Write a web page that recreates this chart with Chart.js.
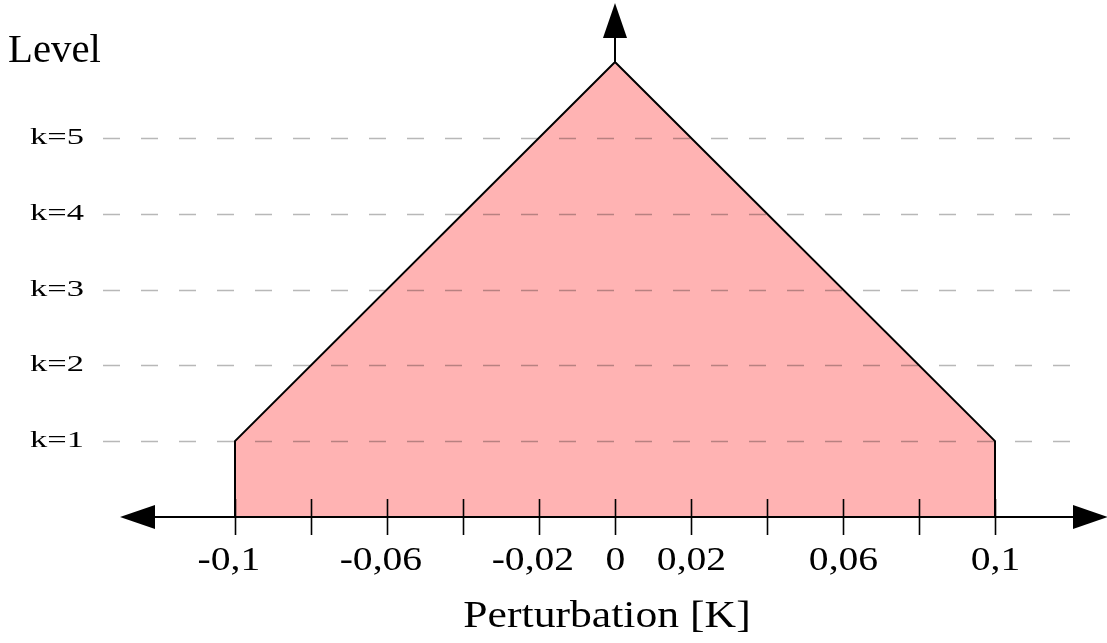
<!DOCTYPE html>
<html>
<head>
<meta charset="utf-8">
<script src="https://cdn.jsdelivr.net/npm/chart.js@4.4.1/dist/chart.umd.min.js"></script>
<style>
  html, body { margin: 0; padding: 0; background: #fff; }
  #wrap { width: 1107px; height: 643px; }
</style>
</head>
<body>
<div id="wrap"><canvas id="levels" width="1107" height="643"></canvas></div>
<script>
// outline of the perturbation profile (x in K, y in levels)
var perturbation = [-0.1, -0.1, 0, 0.1, 0.1];
var level = [0, 1, 6, 1, 0];

// dashed reference levels
var levelValues = [1, 2, 3, 4, 5];
var levelLabels = ['k=1', 'k=2', 'k=3', 'k=4', 'k=5'];

// ticks along the perturbation axis
var tickValues = [-0.1, -0.08, -0.06, -0.04, -0.02, 0, 0.02, 0.04, 0.06, 0.08, 0.1];
var tickLabels = ['-0,1', '', '-0,06', '', '-0,02', '0', '0,02', '', '0,06', '', '0,1'];

var serif = '"Liberation Serif", "DejaVu Serif", serif';

var profile = perturbation.map(function (x, i) {
    return { x: x, y: level[i] };
});

var centreLine = [{ x: 0, y: 0 }, { x: 0, y: 6 }];

var arrowHead = function (ctx, tipX, tipY, dx, dy) {
    // dx, dy: unit direction the arrow points to
    var len = 35, half = 12;
    var bx = tipX - dx * len, by = tipY - dy * len;
    ctx.beginPath();
    ctx.moveTo(tipX, tipY);
    ctx.lineTo(bx - dy * half, by + dx * half);
    ctx.lineTo(bx + dy * half, by - dx * half);
    ctx.closePath();
    ctx.fill();
};

// text stretched sideways a bit, the serif font is narrower than the figure's
var wideText = function (ctx, text, x, y, size, stretch, align) {
    ctx.save();
    ctx.font = size + 'px ' + serif;
    ctx.textAlign = align;
    ctx.textBaseline = 'alphabetic';
    ctx.translate(x, y);
    ctx.scale(stretch, 1);
    ctx.fillText(text, 0, 0);
    ctx.restore();
};

var axesPlugin = {
    id: 'axesPlugin',
    afterDatasetsDraw: function (chart) {
        var ctx = chart.ctx;
        var xs = chart.scales.x;
        var ys = chart.scales.y;
        var y0 = ys.getPixelForValue(0);
        var x0 = xs.getPixelForValue(0);

        ctx.save();

        // dashed level lines
        ctx.strokeStyle = 'rgba(0,0,0,0.28)';
        ctx.lineWidth = 1.6;
        ctx.setLineDash([17, 21]);
        levelValues.forEach(function (v) {
            var py = Math.round(ys.getPixelForValue(v)) + 0.5;
            ctx.beginPath();
            ctx.moveTo(103, py);
            ctx.lineTo(1075, py);
            ctx.stroke();
        });
        ctx.setLineDash([]);

        // level labels
        ctx.fillStyle = '#000';
        levelValues.forEach(function (v, i) {
            wideText(ctx, levelLabels[i], 84, ys.getPixelForValue(v) + 6, 23, 1.5, 'right');
        });

        // horizontal axis with arrows at both ends
        ctx.strokeStyle = '#000';
        ctx.fillStyle = '#000';
        ctx.lineWidth = 2;
        ctx.beginPath();
        ctx.moveTo(140, y0);
        ctx.lineTo(1090, y0);
        ctx.stroke();
        arrowHead(ctx, 120, y0, -1, 0);
        arrowHead(ctx, 1108, y0, 1, 0);

        // vertical axis above the apex
        ctx.beginPath();
        ctx.moveTo(x0, ys.getPixelForValue(6));
        ctx.lineTo(x0, 25);
        ctx.stroke();
        arrowHead(ctx, x0, 3, 0, -1);

        // tick marks and labels; the minus sign hangs left of the centred number
        ctx.lineWidth = 1.6;
        var tickStretch = 1.2;
        ctx.font = '33px ' + serif;
        tickValues.forEach(function (v, i) {
            var px = Math.round(xs.getPixelForValue(v)) + 0.5;
            ctx.beginPath();
            ctx.moveTo(px, y0 - 18);
            ctx.lineTo(px, y0 + 18);
            ctx.stroke();
            var label = tickLabels[i];
            if (label) {
                var body = label.replace(/^-/, '');
                var w = ctx.measureText(body).width * tickStretch;
                wideText(ctx, label, px + w / 2, 570, 33, tickStretch, 'right');
            }
        });

        // axis titles
        wideText(ctx, 'Level', 8, 62, 40, 1.02, 'left');
        wideText(ctx, 'Perturbation [K]', 607, 627, 37, 1.18, 'center');

        ctx.restore();
    }
};

var chart = new Chart(document.getElementById('levels'), {
    type: 'line',
    data: {
        datasets: [
            {
                data: profile,
                borderColor: '#000',
                borderWidth: 2,
                backgroundColor: '#ffb3b3',
                fill: 'origin',
                pointRadius: 0,
                tension: 0
            },
            {
                data: centreLine,
                borderColor: '#000',
                borderWidth: 2,
                fill: false,
                pointRadius: 0
            }
        ]
    },
    options: {
        responsive: false,
        animation: false,
        events: [],
        layout: {
            padding: { left: 121, right: 36, top: 62, bottom: 126 }
        },
        plugins: {
            legend: { display: false },
            tooltip: { enabled: false }
        },
        scales: {
            x: { type: 'linear', min: -0.13, max: 0.12, display: false },
            y: { type: 'linear', min: 0, max: 6, display: false }
        }
    },
    plugins: [axesPlugin]
});
</script>
</body>
</html>
